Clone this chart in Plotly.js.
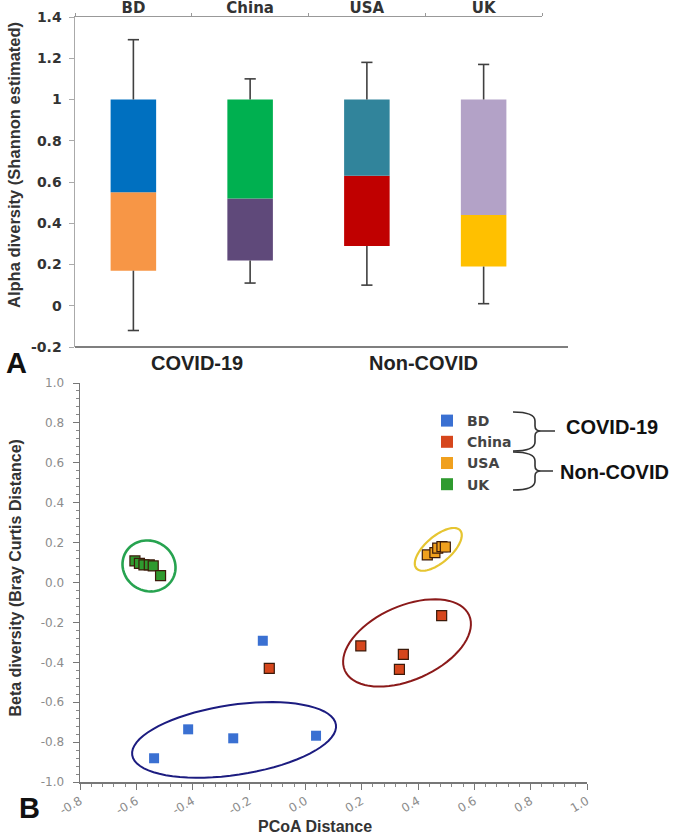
<!DOCTYPE html>
<html>
<head>
<meta charset="utf-8">
<script src="https://cdn.plot.ly/plotly-3.0.1.min.js"></script>
<style>html,body{margin:0;padding:0;background:#fff;}#chart{width:673px;height:836px;}</style>
</head>
<body>
<div id="chart"></div>
<script>
// ---------- Panel A data ----------
const countries = ['BD', 'China', 'USA', 'UK'];
const groupLabels = ['COVID-19', 'Non-COVID'];
const lowerStart = [0.17, 0.22, 0.29, 0.19];
const splitValue = [0.55, 0.52, 0.63, 0.44];
const upperEnd = [1.0, 1.0, 1.0, 1.0];
const errorHigh = [1.29, 1.10, 1.18, 1.17];
const errorLow = [-0.12, 0.11, 0.10, 0.01];
const alphaTickVals = [-0.2, 0, 0.2, 0.4, 0.6, 0.8, 1.0, 1.2, 1.4];
const alphaTickText = ['-0.2', '0', '0.2', '0.4', '0.6', '0.8', '1', '1.2', '1.4'];

// ---------- Panel B data ----------
const bdX = [-0.416, -0.537, -0.256, 0.038, -0.151];
const bdY = [-0.736, -0.881, -0.781, -0.768, -0.292];
const chinaX = [-0.128, 0.197, 0.348, 0.334, 0.484];
const chinaY = [-0.430, -0.318, -0.360, -0.435, -0.166];
const usaX = [0.433, 0.460, 0.470, 0.485, 0.497];
const usaY = [0.138, 0.150, 0.172, 0.180, 0.178];
const ukX = [-0.605, -0.589, -0.573, -0.554, -0.540, -0.514];
const ukY = [0.108, 0.096, 0.088, 0.088, 0.083, 0.034];
const pcoaTickVals = [-0.8, -0.6, -0.4, -0.2, 0.0, 0.2, 0.4, 0.6, 0.8, 1.0];
const pcoaTickText = ['-0.8', '-0.6', '-0.4', '-0.2', '0.0', '0.2', '0.4', '0.6', '0.8', '1.0'];
const betaTickVals = [-1.0, -0.8, -0.6, -0.4, -0.2, 0.0, 0.2, 0.4, 0.6, 0.8, 1.0];
const betaTickText = ['-1.0', '-0.8', '-0.6', '-0.4', '-0.2', '0.0', '0.2', '0.4', '0.6', '0.8', '1.0'];

// ---------- styles ----------
const lowerColors = ['#f79646', '#5f497a', '#c00000', '#ffc000'];
const upperColors = ['#0070c0', '#00b050', '#31849b', '#b3a2c7'];
const pointColors = {BD: '#3a70d2', China: '#d6461c', USA: '#f0a01e', UK: '#2f9a2f'};

const W = 673, H = 836;
const px = v => v / W;
const py = v => 1 - v / H;
const boldFont = 'Liberation Sans, Arial, sans-serif';
const dvFont = 'DejaVu Sans, Verdana, sans-serif';

const zeros = countries.map(() => 0);
const traces = [];

traces.push({
  type: 'bar', x: countries, base: lowerStart,
  y: splitValue.map((v, i) => v - lowerStart[i]),
  width: 0.39, marker: {color: lowerColors, line: {width: 0}},
  xaxis: 'x', yaxis: 'y', showlegend: false
});
traces.push({
  type: 'bar', x: countries, base: splitValue,
  y: upperEnd.map((v, i) => v - splitValue[i]),
  width: 0.39, marker: {color: upperColors, line: {width: 0}},
  xaxis: 'x', yaxis: 'y', showlegend: false
});
// upper whiskers: cap at errorHigh, line down to bar top
traces.push({
  type: 'scatter', mode: 'markers', x: countries, y: errorHigh,
  marker: {symbol: 'line-ew', size: 8, color: '#404040', line: {width: 1.6, color: '#404040'}},
  error_y: {type: 'data', symmetric: false, array: zeros,
            arrayminus: errorHigh.map((v, i) => v - upperEnd[i]),
            width: 0, thickness: 1.6, color: '#404040'},
  xaxis: 'x', yaxis: 'y', showlegend: false
});
// lower whiskers
traces.push({
  type: 'scatter', mode: 'markers', x: countries, y: errorLow,
  marker: {symbol: 'line-ew', size: 8, color: '#404040', line: {width: 1.6, color: '#404040'}},
  error_y: {type: 'data', symmetric: false, arrayminus: zeros,
            array: errorLow.map((v, i) => lowerStart[i] - v),
            width: 0, thickness: 1.6, color: '#404040'},
  xaxis: 'x', yaxis: 'y', showlegend: false
});

// Panel B points
const groups = [
  {name: 'BD', x: bdX, y: bdY, outline: false},
  {name: 'China', x: chinaX, y: chinaY, outline: true},
  {name: 'USA', x: usaX, y: usaY, outline: true},
  {name: 'UK', x: ukX, y: ukY, outline: true}
];
groups.forEach(g => {
  traces.push({
    type: 'scatter', mode: 'markers', x: g.x, y: g.y, name: g.name,
    marker: {symbol: 'square', size: 10, color: pointColors[g.name],
             line: {width: g.outline ? 1.2 : 0, color: '#3b1a0a'}},
    xaxis: 'x2', yaxis: 'y2', showlegend: false
  });
});
groups.forEach(g => {
  traces.push({
    type: 'scatter', mode: 'markers', x: [null], y: [null], name: g.name,
    marker: {symbol: 'square', size: 12, color: pointColors[g.name], line: {width: 0}},
    xaxis: 'x2', yaxis: 'y2', showlegend: true
  });
});

// ellipses (cluster outlines), defined by centre in data units and radii/angle in pixels
const xDom = [80, 587], yDom = [383, 782];
const sx = (xDom[1] - xDom[0]) / 1.8, sy = (yDom[1] - yDom[0]) / 2.0;
const ellipses = [
  {cx: -0.555, cy: 0.083, a: 27, b: 25, ang: -30, color: '#27a350', w: 2.6},
  {cx: 0.472, cy: 0.166, a: 29, b: 13, ang: 41, color: '#e6c531', w: 2.2},
  {cx: 0.361, cy: -0.303, a: 68, b: 37, ang: 24, color: '#8b1a1a', w: 2.0},
  {cx: -0.253, cy: -0.789, a: 103, b: 35, ang: 8.5, color: '#1c1c80', w: 2.0}
];
const shapes = ellipses.map(e => {
  const th = e.ang * Math.PI / 180;
  let p = '';
  for (let k = 0; k <= 72; k++) {
    const t = 2 * Math.PI * k / 72;
    const dx = e.a * Math.cos(t) * Math.cos(th) - e.b * Math.sin(t) * Math.sin(th);
    const dy = e.a * Math.cos(t) * Math.sin(th) + e.b * Math.sin(t) * Math.cos(th);
    p += (k === 0 ? 'M' : 'L') + (e.cx + dx / sx).toFixed(5) + ',' + (e.cy + dy / sy).toFixed(5);
  }
  return {type: 'path', xref: 'x2', yref: 'y2', path: p + 'Z', line: {color: e.color, width: e.w}};
});

// bottom line of panel A
shapes.push({type: 'line', xref: 'paper', yref: 'paper', x0: px(75), x1: px(568), y0: py(347), y1: py(347),
             line: {color: '#555', width: 1.5}});

// braces
function pathPx(cmds) {
  return cmds.map(c => {
    if (c.length === 3) return c[0] + px(c[1]).toFixed(5) + ',' + py(c[2]).toFixed(5);
    return c[0] + px(c[1]).toFixed(5) + ',' + py(c[2]).toFixed(5) + ' ' + px(c[3]).toFixed(5) + ',' + py(c[4]).toFixed(5);
  }).join(' ');
}
const braceSpecs = [[412, 431, 451, 555], [452, 471, 490, 553]];
braceSpecs.forEach(b => {
  const [t, m, bt, end] = b;
  const path = pathPx([
    ['M', 513, t], ['Q', 535, t, 535, t + 9], ['L', 535, m - 5], ['Q', 535, m, 541, m],
    ['L', end, m], ['M', 541, m], ['Q', 535, m, 535, m + 5], ['L', 535, bt - 9], ['Q', 535, bt, 513, bt]
  ]);
  shapes.push({type: 'path', xref: 'paper', yref: 'paper', path: path, line: {color: '#333', width: 1.6}});
});

const annotations = [
  {text: 'Alpha diversity (Shannon estimated)', textangle: -90, x: px(14.5), y: py(165.5),
   font: {family: boldFont, size: 16.5, color: '#333', weight: 'bold'}},
  {text: groupLabels[0], x: px(197), y: py(363), font: {family: boldFont, size: 20, color: '#222', weight: 'bold'}},
  {text: groupLabels[1], x: px(423), y: py(363), font: {family: boldFont, size: 20, color: '#222', weight: 'bold'}},
  {text: 'A', x: px(16.5), y: py(363), font: {family: boldFont, size: 29, color: '#111', weight: 'bold'}},
  {text: 'B', x: px(29), y: py(808), font: {family: boldFont, size: 29, color: '#111', weight: 'bold'}},
  {text: 'Beta diversity (Bray Curtis Distance)', textangle: -90, x: px(15), y: py(578.5),
   font: {family: boldFont, size: 16, color: '#333', weight: 'bold'}},
  {text: 'PCoA Distance', x: px(315), y: py(826), font: {family: boldFont, size: 16, color: '#333', weight: 'bold'}},
  {text: groupLabels[0], x: px(612), y: py(427), font: {family: boldFont, size: 20, color: '#111', weight: 'bold'}},
  {text: groupLabels[1], x: px(614), y: py(472), font: {family: boldFont, size: 20, color: '#111', weight: 'bold'}}
].map(a => Object.assign({xref: 'paper', yref: 'paper', showarrow: false, xanchor: 'center', yanchor: 'middle'}, a));

const layout = {
  width: W, height: H,
  margin: {l: 0, r: 0, t: 0, b: 0},
  paper_bgcolor: '#fff', plot_bgcolor: 'rgba(0,0,0,0)',
  barmode: 'overlay',
  showlegend: true,
  legend: {x: px(427), y: py(405), xanchor: 'left', yanchor: 'top', bgcolor: 'rgba(0,0,0,0)',
           font: {family: dvFont, size: 14, color: '#444', weight: 'bold'}, traceorder: 'normal'},
  xaxis: {domain: [px(75), px(542)], anchor: 'y', side: 'top', type: 'category',
          range: [-0.5, 3.5], tickson: 'boundaries', ticks: 'outside', ticklen: 3, tickcolor: '#999',
          showline: true, linecolor: '#999', linewidth: 1.5, showgrid: false, zeroline: false,
          tickfont: {family: dvFont, size: 15, color: '#333', weight: 'bold'}, ticklabelstandoff: -3},
  yaxis: {domain: [py(347), py(17)], anchor: 'x', range: [-0.2, 1.4],
          tickmode: 'array', tickvals: alphaTickVals, ticktext: alphaTickText,
          ticks: 'outside', ticklen: 5, tickcolor: '#aaa', showline: true, linecolor: '#aaa', linewidth: 1.5,
          showgrid: false, zeroline: false, ticklabelstandoff: 4,
          tickfont: {family: dvFont, size: 14, color: '#333', weight: 'bold'}},
  xaxis2: {domain: [px(xDom[0]), px(xDom[1])], anchor: 'y2', range: [-0.8, 1.0],
           tickmode: 'array', tickvals: pcoaTickVals, ticktext: pcoaTickText, tickangle: -30,
           ticks: 'outside', ticklen: 6, tickcolor: '#777', showline: true, linecolor: '#777', linewidth: 1.5,
           showgrid: false, zeroline: false,
           minor: {tickmode: 'linear', tick0: -0.8, dtick: 0.04, ticks: 'outside', ticklen: 3, tickcolor: '#888', showgrid: false},
           tickfont: {family: dvFont, size: 12, color: '#8c8c8c'}},
  yaxis2: {domain: [py(yDom[1]), py(yDom[0])], anchor: 'x2', range: [-1.0, 1.0],
           tickmode: 'array', tickvals: betaTickVals, ticktext: betaTickText,
           ticks: 'outside', ticklen: 6, tickcolor: '#777', showline: true, linecolor: '#777', linewidth: 1.5,
           showgrid: false, zeroline: false, ticklabelstandoff: 6,
           minor: {tickmode: 'linear', tick0: -1.0, dtick: 0.04, ticks: 'outside', ticklen: 3, tickcolor: '#888', showgrid: false},
           tickfont: {family: dvFont, size: 12, color: '#8c8c8c'}},
  shapes: shapes,
  annotations: annotations
};

Plotly.newPlot('chart', traces, layout, {staticPlot: true, displayModeBar: false});
</script>
</body>
</html>
